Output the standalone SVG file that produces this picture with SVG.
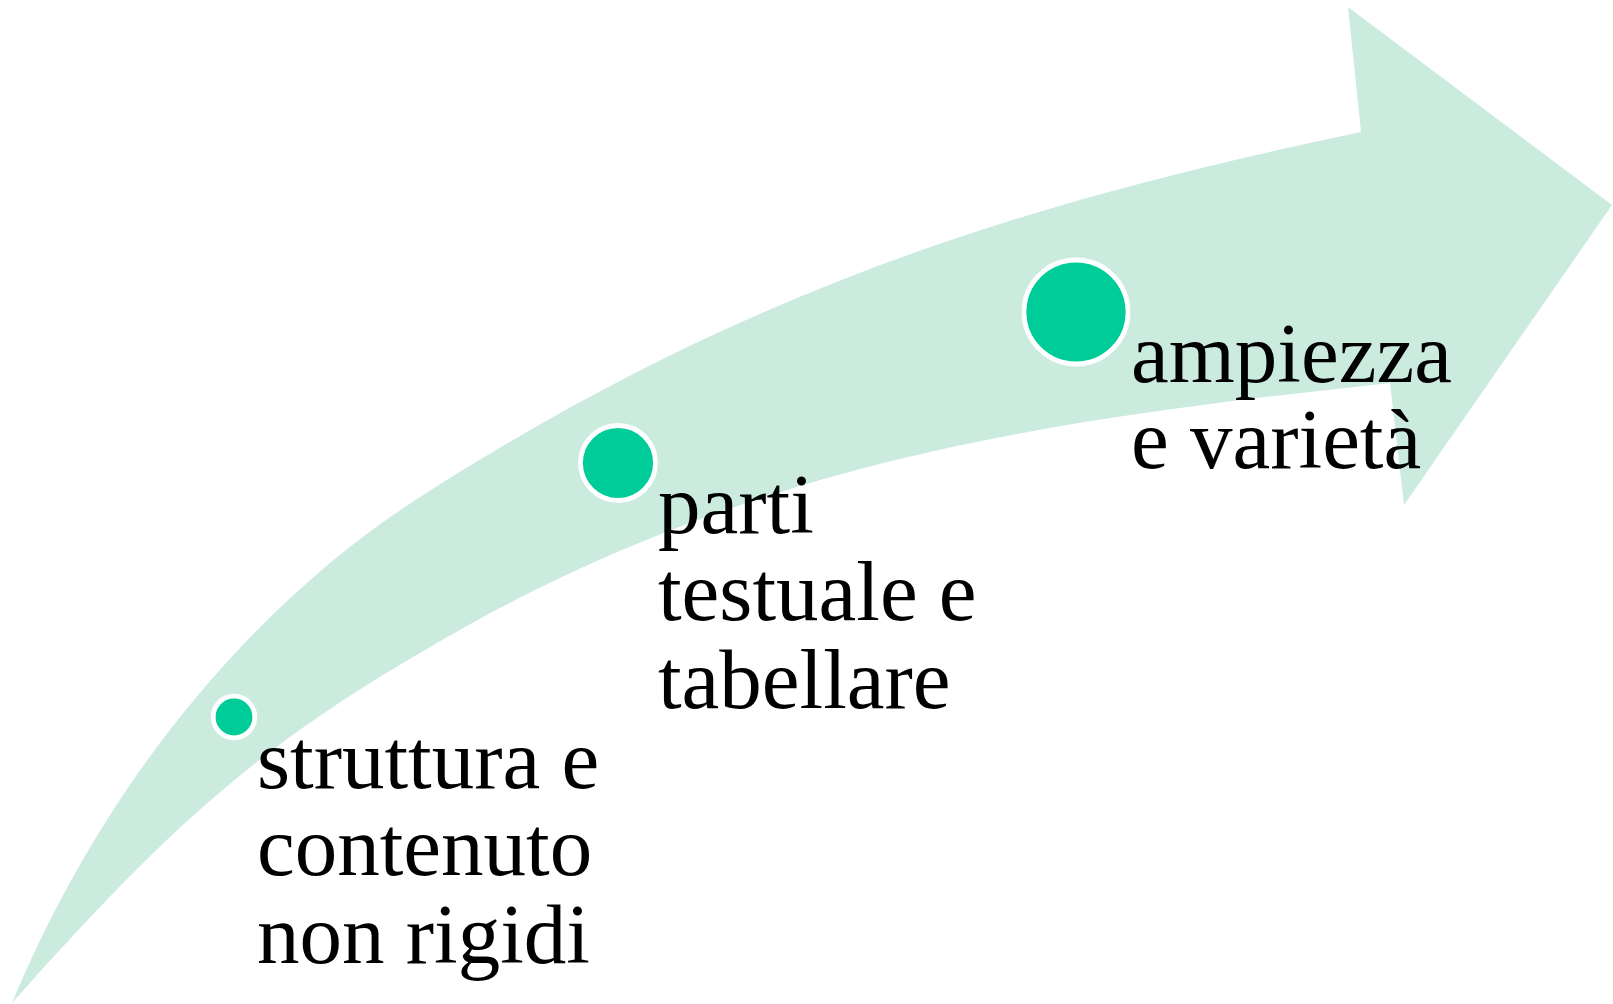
<svg xmlns="http://www.w3.org/2000/svg" width="1613" height="1004" viewBox="0 0 1613 1004">
<style>
.band{fill:#CCEBDF;stroke:none}
.dot{fill:#00CC99;stroke:#FFFFFF;stroke-width:4.8}
.lbl{font-family:"Liberation Serif","Times New Roman",serif;font-size:85px;fill:#000000}
</style>
<rect width="1613" height="1004" fill="#FFFFFF"/>
<g id="arrow">
<path class="band" d="M12,1003 C112,763 270,593 420,497 C750,285.8 1031,201.3 1361,132 L1348,7 L1612,205 L1404,505 L1390,383 C1070,418.2 750,455 420,653 C250,752 162,835 12,1003 Z"/>
</g>
<g id="connectors"></g>
<g id="node1">
<circle class="dot" cx="234" cy="717" r="20.8"/>
<text class="lbl" x="257"><tspan x="257" y="788">struttura e</tspan><tspan x="257" y="875">contenuto</tspan><tspan x="257" y="963">non rigidi</tspan></text>
</g>
<g id="node2">
<circle class="dot" cx="618" cy="463" r="37.5"/>
<text class="lbl" x="658"><tspan x="658" y="533">parti</tspan><tspan x="658" y="620">testuale e</tspan><tspan x="658" y="708">tabellare</tspan></text>
</g>
<g id="node3">
<circle class="dot" cx="1076" cy="312" r="52"/>
<text class="lbl" x="1131"><tspan x="1131" y="382">ampiezza</tspan><tspan x="1131" y="468">e varietà</tspan></text>
</g>
</svg>
